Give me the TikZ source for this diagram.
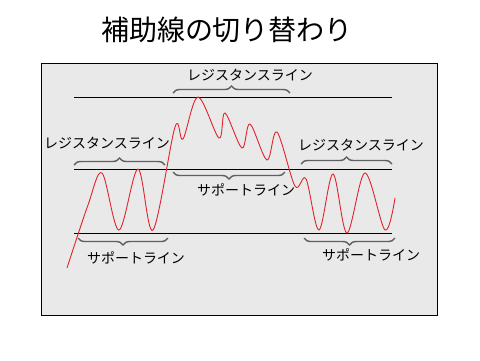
\documentclass[tikz,border=0pt]{standalone}
\usepackage{fontspec}
\setmainfont{Noto Sans CJK JP}
\usepackage{tikz}
\usetikzlibrary{decorations.pathreplacing}
\definecolor{panelbg}{RGB}{233,233,233}
\definecolor{bracegray}{RGB}{95,95,95}
\definecolor{pricered}{RGB}{225,35,45}
\tikzset{
  level line/.style={draw=black, line width=0.9pt},
  up brace/.style={draw=bracegray, line width=1.4pt, decorate,
    decoration={brace, amplitude=7pt}},
  down brace/.style={draw=bracegray, line width=1.4pt, decorate,
    decoration={brace, amplitude=7pt, mirror}},
  line label/.style={font=\fontsize{14}{14}\selectfont, inner sep=0pt},
}

\begin{document}
\begin{tikzpicture}[x=1pt, y=-1pt]
  \useasboundingbox (0,0) rectangle (480,360);

  % Title
  \node[font=\fontsize{28}{28}\selectfont] (title) at (227,30) {補助線の切り替わり};

  % Panel
  \draw[fill=panelbg, line width=0.9pt] (41,63) rectangle (437,315);

  % Levels
  \draw[level line] (74,97) -- (392,97);
  \draw[level line] (74,169) -- (392,169);
  \draw[level line] (74,233) -- (392,233);

  % Price
  \draw[pricered, line width=0.9pt] plot[smooth, tension=0.55] coordinates {
    (67,268) (88,205) (102,173) (119,230) (138,169) (153,230)
    (175,127) (183,139) (198,97) (219,138) (225,113) (242,148)
    (250,124) (267,160) (277,132) (295,186) (306,179) (319,230)
    (333,174) (347,233) (365,173) (385,230) (395,198)};

  % Braces
  \draw[up brace] (173,93) -- (290,93);
  \draw[up brace] (74,165) -- (165,165);
  \draw[up brace] (301,164) -- (392,164);
  \draw[down brace] (173,172) -- (285,172);
  \draw[down brace] (78,238) -- (168,238);
  \draw[down brace] (304,238) -- (395,238);

  % Labels
  \node[line label] (resTop) at (250,75) {レジスタンスライン};
  \node[line label] (resLeft) at (107,143) {レジスタンスライン};
  \node[line label] (resRight) at (361,145) {レジスタンスライン};
  \node[line label] (supMid) at (246,190) {サポートライン};
  \node[line label] (supLeft) at (136,258) {サポートライン};
  \node[line label] (supRight) at (371,255) {サポートライン};
\end{tikzpicture}
\end{document}
